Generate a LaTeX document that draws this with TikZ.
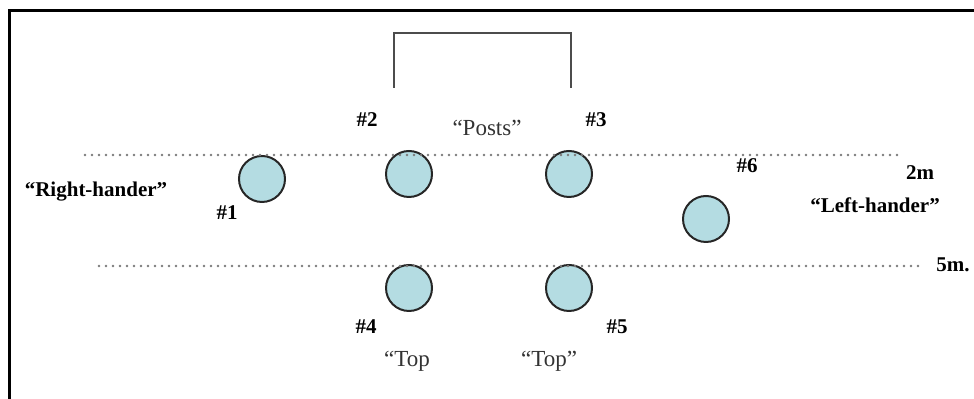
\documentclass[tikz,border=0pt]{standalone}
\usepackage{fontspec}
\setmainfont{Liberation Serif}
\usetikzlibrary{positioning}
\definecolor{DrillCyan}{HTML}{B4DCE2}
\definecolor{DrillGrey}{HTML}{7A7A7A}

\begin{document}
\begin{tikzpicture}[
        x=0.5pt, y=-0.5pt,
        player/.style={circle, draw=black!85, line width=1pt, fill=DrillCyan,
          minimum size=23pt, inner sep=0pt},
        tag/.style={font=\fontsize{10.5}{12}\selectfont\bfseries, inner sep=0pt},
        note/.style={font=\fontsize{11.5}{13}\selectfont, text=black!80, inner sep=0pt},
        zone/.style={draw=DrillGrey, line width=1.4pt, line cap=round,
          dash pattern=on 0pt off 3.5pt},
        goal/.style={draw=black!70, line width=1pt}
      ]
        \useasboundingbox (0,0) rectangle (974,399);
        % frame
        \draw[line width=1.5pt] (9.5,399) -- (9.5,11) -- (974,11);
        % goal
        \coordinate (postL) at (394,88);
        \coordinate (postR) at (571,88);
        \draw[goal] (postL) -- (394,33) -- (571,33) -- (postR);
        % players
        \node[player] (p1) at (262,179) {};
        \node[player] (p2) at (409,174) {};
        \node[player] (p3) at (569,174) {};
        \node[player] (p4) at (409,288) {};
        \node[player] (p5) at (569,288) {};
        \node[player] (p6) at (706,219) {};
        % distance lines
        \coordinate (twoA) at (85,155);
        \coordinate (twoB) at (903,155);
        \coordinate (fiveA) at (99,266);
        \coordinate (fiveB) at (920,266);
        \draw[zone] (twoA) -- (twoB);
        \draw[zone] (fiveA) -- (fiveB);
        % labels
        \node[tag] (n1) at (227,213) {\#1};
        \node[tag] (n2) at (367,120) {\#2};
        \node[tag] (n3) at (596,120) {\#3};
        \node[tag] (n4) at (366,327) {\#4};
        \node[tag] (n5) at (617,327) {\#5};
        \node[tag] (n6) at (747,166) {\#6};
        \node[note] (posts) at (487,128) {“Posts”};
        \node[note] (topL) at (407,361) {“Top};
        \node[note] (topR) at (549,361) {“Top”};
        \node[tag] (righty) at (96,192) {“Right-hander”};
        \node[tag] (lefty) at (875,205) {“Left-hander”};
        \node[tag] (two) at (920,173) {2m};
        \node[tag] (five) at (953,265) {5m.};
      \end{tikzpicture}
\end{document}
